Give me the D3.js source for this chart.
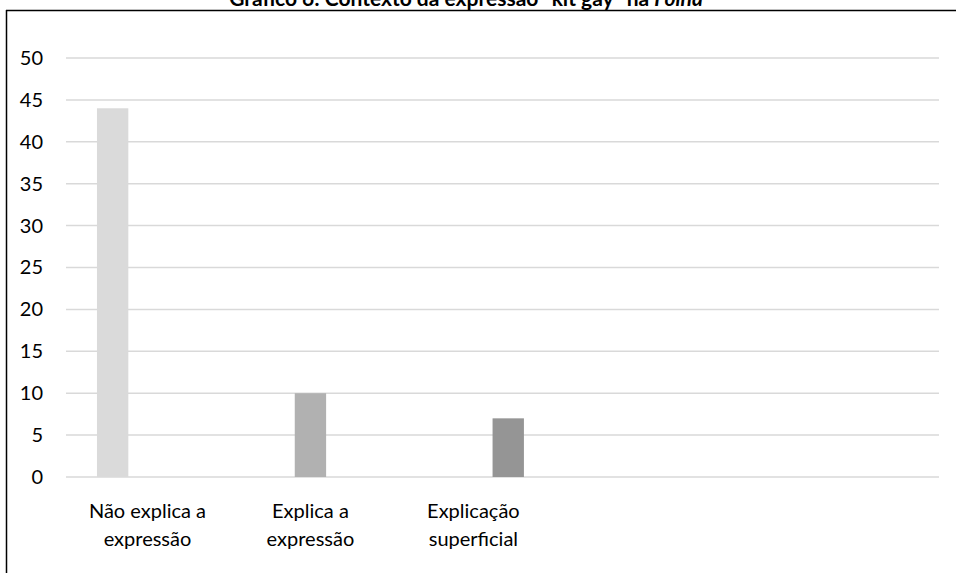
<!DOCTYPE html>
<html>
<head>
<meta charset="utf-8">
<script src="https://cdn.jsdelivr.net/npm/d3@7"></script>
<style>
  html, body { margin: 0; padding: 0; background: #fff; }
  svg { display: block; }
  text { font-family: Lato, "Open Sans", sans-serif; fill: #000; }
</style>
</head>
<body>
<svg id="chart" width="956" height="573"></svg>
<script>
// Data
const categories = ["Não explica a|expressão", "Explica a|expressão", "Explicação|superficial"];
const seriesNames = ["Não explica a expressão", "Explica a expressão", "Explicação superficial"];
const seriesValues = [44, 10, 7];
const seriesColors = ["#dadada", "#b1b1b1", "#959595"];
const yTicks = [0, 5, 10, 15, 20, 25, 30, 35, 40, 45, 50];

const svg = d3.select("#chart");
const W = 956, H = 573;
const margin = { left: 66, right: 17, top: 58, bottom: 96 };
const innerW = W - margin.left - margin.right;
const innerH = H - margin.top - margin.bottom;

// Frame around the chart area (top and left edges visible)
svg.append("line").attr("x1", 6).attr("x2", W).attr("y1", 10.5).attr("y2", 10.5)
  .attr("stroke", "#000").attr("stroke-width", 1.5);
svg.append("line").attr("x1", 6.5).attr("x2", 6.5).attr("y1", 10).attr("y2", H)
  .attr("stroke", "#000").attr("stroke-width", 1.5);

// Title (sits above the frame line)
const title = svg.append("text")
  .attr("x", 466).attr("y", 6)
  .attr("text-anchor", "middle")
  .attr("font-weight", "bold")
  .attr("font-size", 21);
title.append("tspan").text("Gráfico 6: Contexto da expressão “kit gay” na ");
title.append("tspan").attr("font-style", "italic").text("Folha");

const g = svg.append("g").attr("transform", `translate(${margin.left},${margin.top})`);

const y = d3.scaleLinear().domain([0, 50]).range([innerH, 0]);
const x = d3.scaleBand().domain(categories).range([0, innerW * 0.56]);
const xs = d3.scaleBand().domain(seriesNames)
  .range([x.bandwidth() * 0.19, x.bandwidth() * 0.81]).paddingInner(0.1);

// Gridlines
g.append("g").selectAll("line").data(yTicks).join("line")
  .attr("x1", 0).attr("x2", innerW)
  .attr("y1", d => y(d)).attr("y2", d => y(d))
  .attr("stroke", "#d9d9d9").attr("stroke-width", 1.5);

// Y axis labels
const yAxis = d3.axisLeft(y).tickValues(yTicks).tickSize(0).tickPadding(23);
g.append("g").call(yAxis)
  .call(s => s.select(".domain").remove())
  .selectAll("text").attr("font-size", 20).attr("fill", "#000")
  .style("font-family", "Lato, 'Open Sans', sans-serif");

// Bars: each series only has a value in its own category
const bars = categories.map((c, i) => ({ cat: c, series: seriesNames[i], value: seriesValues[i], color: seriesColors[i] }));
g.append("g").selectAll("rect").data(bars).join("rect")
  .attr("x", d => x(d.cat) + xs(d.series))
  .attr("width", xs.bandwidth())
  .attr("y", d => y(d.value))
  .attr("height", d => y(0) - y(d.value))
  .attr("fill", d => d.color);

// Category labels (two lines)
const catG = g.append("g").attr("transform", `translate(0,${innerH})`);
categories.forEach(c => {
  const lines = c.split("|");
  const t = catG.append("text")
    .attr("x", x(c) + x.bandwidth() / 2)
    .attr("y", 41)
    .attr("text-anchor", "middle")
    .attr("font-size", 20);
  lines.forEach((l, k) => {
    t.append("tspan").attr("x", x(c) + x.bandwidth() / 2).attr("dy", k === 0 ? 0 : 28).text(l);
  });
});
</script>
</body>
</html>
